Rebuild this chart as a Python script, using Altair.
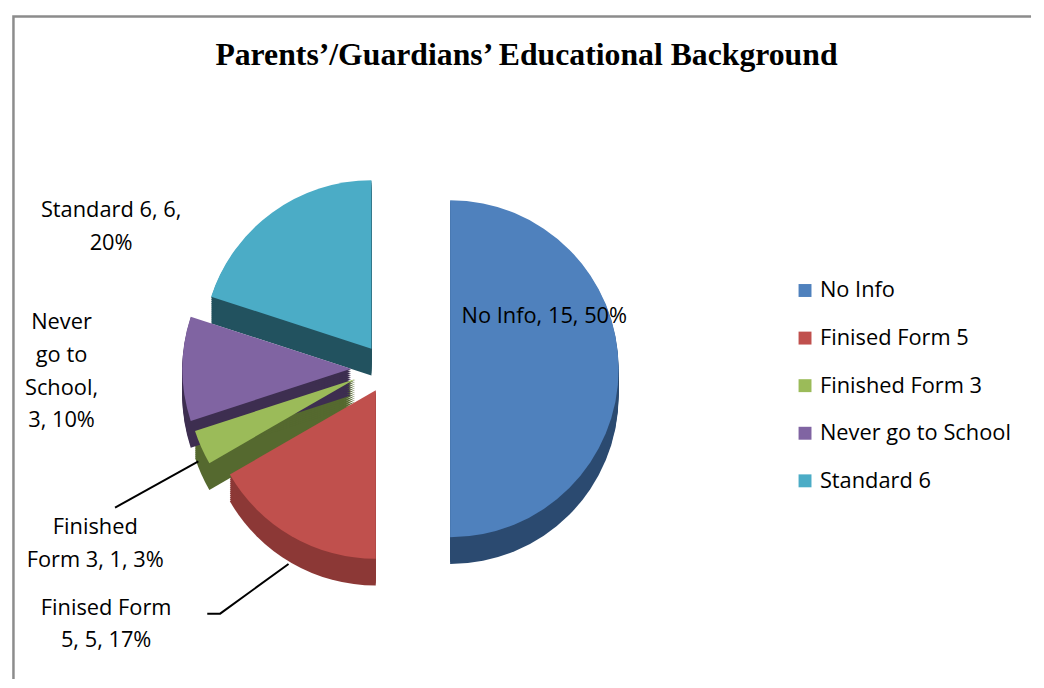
import math
import pandas as pd
import altair as alt

# ---- data ----
categories = ["No Info", "Finised Form 5", "Finished Form 3", "Never go to School", "Standard 6"]
counts = [15, 5, 1, 3, 6]
percents = [50, 17, 3, 10, 20]
title_text = "Parents\u2019/Guardians\u2019 Educational Background"

# ---- styles ----
top_colors = ["#4F81BD", "#C0504D", "#9BBB59", "#8064A2", "#4BACC6"]
side_colors = ["#2B4A70", "#8C3836", "#55692F", "#3D2E50", "#22525F"]
FONT = "Open Sans"
FS = 22

# ---- layout (view pixel coordinates; view starts at page 8,8) ----
W, H = 1028, 670
CX, CY = 392, 357
R = 170
EXPLODE_X = 50
EXPLODE_Y = 25
DEPTH = 28

df = pd.DataFrame({"category": categories, "count": counts, "pct": percents,
                   "order": list(range(len(categories)))})

xs = alt.Scale(domain=[0, W], range=[0, W], nice=False, zero=False)
ys = alt.Scale(domain=[0, H], range=[0, H], nice=False, zero=False)

base = (
    alt.Chart(df)
    .transform_joinaggregate(total="sum(count)")
    .transform_window(cum="sum(count)", sort=[alt.SortField("order")], frame=[None, 0])
    .transform_calculate(
        a0="(datum.cum - datum.count) / datum.total * 2 * PI",
        a1="datum.cum / datum.total * 2 * PI",
        mid="(datum.cum - datum.count / 2) / datum.total * 2 * PI",
    )
    .transform_calculate(
        px=f"{CX} + sin(datum.mid) * {EXPLODE_X}",
        py=f"{CY} - cos(datum.mid) * {EXPLODE_Y}",
    )
)

side = (
    base.transform_calculate(steps=f"sequence(1, {DEPTH + 1}, 2)")
    .transform_flatten(["steps"])
    .transform_calculate(pyd="datum.py + datum.steps")
    .mark_arc(radius=R)
    .encode(
        x=alt.X("px:Q", scale=xs, axis=None),
        y=alt.Y("pyd:Q", scale=ys, axis=None),
        theta=alt.Theta("a0:Q", scale=None),
        theta2="a1:Q",
        color=alt.Color("category:N", scale=alt.Scale(domain=categories, range=side_colors), legend=None),
    )
)

top = base.mark_arc(radius=R).encode(
    x=alt.X("px:Q", scale=xs, axis=None),
    y=alt.Y("py:Q", scale=ys, axis=None),
    theta=alt.Theta("a0:Q", scale=None),
    theta2="a1:Q",
    color=alt.Color(
        "category:N",
        scale=alt.Scale(domain=categories, range=top_colors),
        legend=alt.Legend(
            title=None, orient="none", legendX=789, legendY=267,
            symbolType="square", symbolSize=170, symbolStrokeWidth=0,
            labelFont=FONT, labelFontSize=FS, labelColor="#000000", labelLimit=0,
            rowPadding=26, labelOffset=4, padding=0,
        ),
    ),
)

# ---- data labels (Excel best-fit positions; y is the first line) ----
breaks = {"No Info": [], "Finised Form 5": [2], "Finished Form 3": [1],
          "Never go to School": [1, 3, 4], "Standard 6": [3]}
label_pos = {"No Info": (537, 304), "Finised Form 5": (95, 598), "Finished Form 3": (84, 517),
             "Never go to School": (50, 310), "Standard 6": (100, 197)}
rows = []
for c, n, p in zip(categories, counts, percents):
    words = f"{c}, {n}, {p}%".split(" ")
    lines, cur = [], []
    for i, w in enumerate(words, start=1):
        cur.append(w)
        if i in breaks[c]:
            lines.append(" ".join(cur))
            cur = []
    lines.append(" ".join(cur))
    rows.append({"category": c, "label": "\n".join(lines),
                 "lx": label_pos[c][0], "ly": label_pos[c][1]})
ldf = pd.DataFrame(rows)

labels = alt.Chart(ldf).mark_text(
    font=FONT, fontSize=FS, color="#000000", align="center", baseline="middle",
    lineBreak="\n", lineHeight=33,
).encode(
    x=alt.X("lx:Q", scale=xs, axis=None),
    y=alt.Y("ly:Q", scale=ys, axis=None),
    text="label:N",
)

# ---- leader lines ----
def edge_point(idx, frac_depth=0.5):
    cum = sum(counts[: idx + 1])
    mid = (cum - counts[idx] / 2) / sum(counts) * 2 * math.pi
    cx = CX + math.sin(mid) * EXPLODE_X
    cy = CY - math.cos(mid) * EXPLODE_Y
    return (cx + math.sin(mid) * R, cy - math.cos(mid) * R + DEPTH * frac_depth)

p3 = edge_point(2)
p5 = edge_point(1, 1.0)
leader_df = pd.DataFrame({
    "grp": ["f3", "f3", "f5", "f5", "f5"],
    "k": [0, 1, 0, 1, 2],
    "lx": [p3[0] - 3, 104, p5[0] - 3, 210, 197],
    "ly": [p3[1], 497, p5[1], 604, 604],
})
leaders = alt.Chart(leader_df).mark_line(color="#000000", strokeWidth=2).encode(
    x=alt.X("lx:Q", scale=xs, axis=None),
    y=alt.Y("ly:Q", scale=ys, axis=None),
    detail="grp:N",
    order="k:Q",
)

# ---- title and border (left and top edges of the chart frame) ----
title = alt.Chart(pd.DataFrame({"t": [title_text]})).mark_text(
    font="Liberation Serif", fontSize=32, fontWeight="bold", color="#000000",
    align="center", baseline="alphabetic",
).encode(x=alt.value(519), y=alt.value(51), text="t:N")

frame_df = pd.DataFrame({"fx": [1.5, 1.5, W], "fy": [H, 1.5, 1.5], "k": [0, 1, 2]})
frame = alt.Chart(frame_df).mark_line(color="#8C8C8C", strokeWidth=2.5).encode(
    x=alt.X("fx:Q", scale=xs, axis=None),
    y=alt.Y("fy:Q", scale=ys, axis=None),
    order="k:Q",
)

chart = (
    alt.layer(side, top, labels, leaders, title, frame)
    .resolve_scale(color="independent")
    .properties(width=W, height=H, padding=0, background="#FFFFFF")
    .configure_view(strokeWidth=0, stroke="transparent", fill="#FFFFFF")
)

chart.save("out.html", embed_options={"renderer": "svg", "actions": False})
